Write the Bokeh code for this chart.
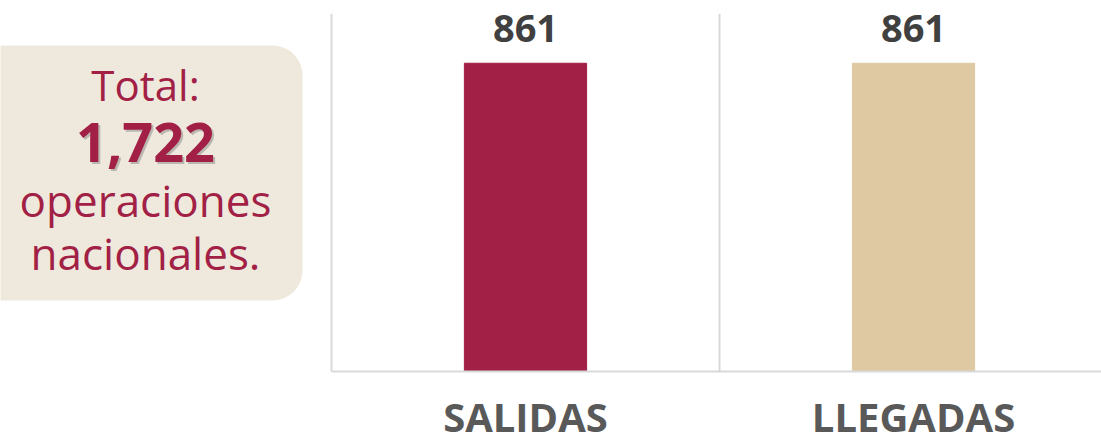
from bokeh.plotting import figure
from bokeh.models import Range1d, FixedTicker, BoxAnnotation, ColumnDataSource, LinearAxis
from bokeh.layouts import row
from bokeh.embed import file_html
from bokeh.resources import INLINE
from bokeh.core.properties import value

# ---- data ----
categories = ["SALIDAS", "LLEGADAS"]
values = [861, 861]
bar_colors = ["#a21f45", "#dec9a3"]
total_title = "Total:"
total_desc = ["operaciones", "nacionales."]

FONT_NAME = "Open Sans"
FONT = value(FONT_NAME)
CRIMSON = "#a21f45"
GRID = "#d9d9d9"
H = 434
TOP = 13

# ---- main bar chart ----
n = len(categories)
xs = [i + 0.5 for i in range(n)]
px_per_cat = 388
W_MAIN = 772
x_start = -2 / px_per_cat
x_end = x_start + W_MAIN / px_per_cat
y_top = 1000
px_per_unit = 0.358
y_bottom = -(H - TOP - y_top * px_per_unit) / px_per_unit

src = ColumnDataSource(dict(x=xs, top=values, color=bar_colors,
                            label=[f"{v:,}" for v in values]))

p = figure(width=W_MAIN, height=H, x_range=Range1d(x_start, x_end),
           y_range=Range1d(y_bottom, y_top), output_backend="svg", toolbar_location=None,
           x_axis_location=None, y_axis_location=None,
           min_border_left=0, min_border_right=0, min_border_top=TOP, min_border_bottom=0)
p.vbar(x="x", top="top", width=0.315, color="color", source=src)
p.text(x="x", y="top", text="label", text_align="center", text_baseline="alphabetic",
       y_offset=-34.5, text_font=FONT, text_font_style="bold", text_font_size="38px",
       text_color="#404040", source=src)

p.grid.visible = False
p.outline_line_color = None
p.background_fill_color = None
p.border_fill_color = None

# category axis along the baseline
xax = LinearAxis(fixed_location=0, ticker=FixedTicker(ticks=xs),
                 major_label_overrides={x: c for x, c in zip(xs, categories)},
                 bounds=(0, x_end),
                 major_tick_line_color=None, minor_tick_line_color=None,
                 major_tick_out=0, major_tick_in=0,
                 axis_line_color=GRID, axis_line_width=2,
                 major_label_text_font=FONT_NAME, major_label_text_font_style="bold",
                 major_label_text_font_size="40px", major_label_text_color="#595959",
                 major_label_standoff=17)
p.add_layout(xax, "below")

# vertical separators at category boundaries
for b in range(n):
    yax = LinearAxis(fixed_location=b, ticker=FixedTicker(ticks=[]), bounds=(0, y_top),
                     major_tick_line_color=None, minor_tick_line_color=None,
                     axis_line_color=GRID, axis_line_width=2)
    p.add_layout(yax, "left")

# ---- left summary panel ----
WL = 329
q = figure(width=WL, height=H, x_range=Range1d(0, WL), y_range=Range1d(0, H - TOP),
           output_backend="svg", toolbar_location=None,
           min_border_left=0, min_border_right=0, min_border_top=TOP, min_border_bottom=0)
q.axis.visible = False
q.grid.visible = False
q.outline_line_color = None
q.background_fill_color = None
q.border_fill_color = None
q.add_layout(BoxAnnotation(left=-40, right=302, bottom=134, top=389, level="underlay",
                           fill_color="#efe9dd", fill_alpha=1, line_color=None,
                           border_radius=30))

cx = 145
total_txt = f"{sum(values):,}"
q.text(x=[cx], y=[350], text=[total_title], text_align="center", text_baseline="alphabetic",
       text_font=FONT, text_font_size="42px", text_color=CRIMSON)
q.text(x=[cx], y=[292], text=[total_txt], text_align="center", text_baseline="alphabetic",
       x_offset=2, y_offset=2, text_font=FONT, text_font_style="bold", text_font_size="54px",
       text_color="#7a7a7a", text_alpha=0.45)
q.text(x=[cx], y=[292], text=[total_txt], text_align="center", text_baseline="alphabetic",
       text_font=FONT, text_font_style="bold", text_font_size="54px", text_color=CRIMSON)
q.text(x=[cx, cx], y=[235, 182], text=total_desc, text_align="center", text_baseline="alphabetic",
       text_font=FONT, text_font_size="44px", text_color=CRIMSON)

layout = row(q, p, spacing=0)
open("out.html", "w").write(file_html(layout, INLINE))
